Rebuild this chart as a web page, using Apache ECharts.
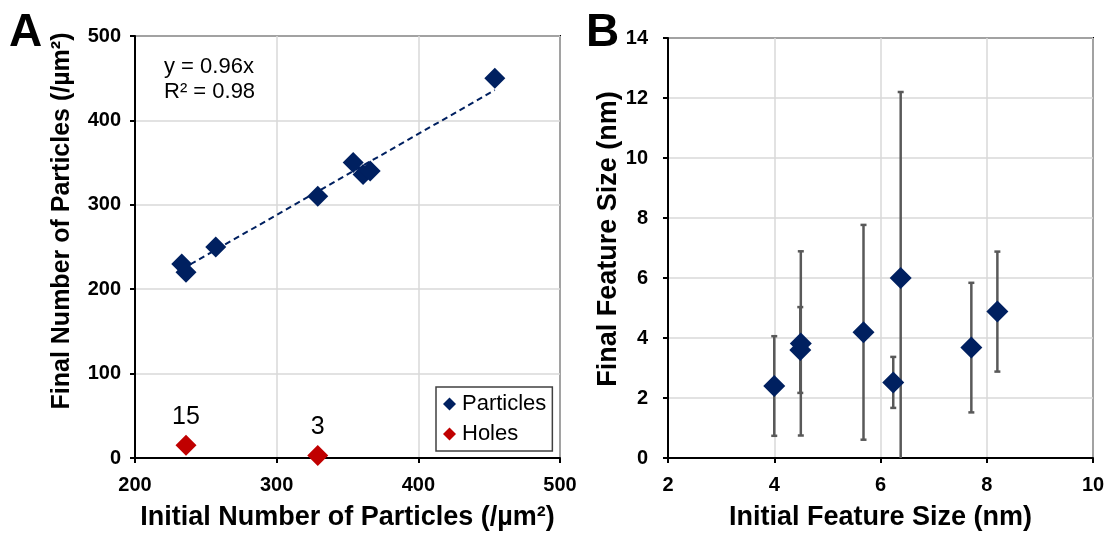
<!DOCTYPE html>
<html>
<head>
<meta charset="utf-8">
<script src="https://cdn.jsdelivr.net/npm/echarts@6/dist/echarts.min.js"></script>
<style>
html,body{margin:0;padding:0;background:#fff;}
#c{width:1109px;height:536px;}
</style>
</head>
<body>
<div id="c"></div>
<script>
// ---- Panel A data ----
const particlesInitial = [233, 236, 257, 329, 354, 361, 366, 454];
const particlesFinal   = [230, 220, 250, 310, 350, 336, 340, 450];
const holesInitial = [236, 329];
const holesFinal   = [15, 3];
const trendSlope = 0.96;
const trendR2 = 0.98;
const trendXRange = [233, 454];
const aXTicks = [200, 300, 400, 500];
const aYTicks = [0, 100, 200, 300, 400, 500];

// ---- Panel B data ----
const sizeInitial = [4.0, 4.49, 4.5, 5.68, 6.24, 6.38, 7.71, 8.2];
const sizeFinal   = [2.4, 3.6, 3.82, 4.19, 2.52, 6.0, 3.68, 4.88];
const sizeError   = [1.66, 1.43, 3.07, 3.58, 0.85, 6.2, 2.16, 2.0];
const bXTicks = [2, 4, 6, 8, 10];
const bYTicks = [0, 2, 4, 6, 8, 10, 12, 14];

const FONT = 'Liberation Sans, Arial, sans-serif';
const NAVY = '#002060';
const RED = '#C00000';
const GRID = '#d9d9d9';

const chart = echarts.init(document.getElementById('c'), null, {renderer: 'canvas'});

function axisCommon(min, max, interval, nameSize, namePad) {
  return {
    type: 'value', min: min, max: max, interval: interval,
    axisLine: {show: true, onZero: false, lineStyle: {color: '#000', width: 2}},
    axisTick: {show: true, length: 5, lineStyle: {color: '#000', width: 2}},
    splitLine: {show: true, lineStyle: {color: GRID, width: 1.5}},
    nameLocation: 'middle',
    nameTextStyle: {color: '#000', fontFamily: FONT, fontWeight: 'bold', fontSize: nameSize,
      padding: namePad || 0}
  };
}
function lbl(margin) {
  return {color: '#000', fontFamily: FONT, fontWeight: 'bold', fontSize: 20, margin: margin};
}

const particlesData = particlesInitial.map((x, i) => [x, particlesFinal[i]]);
const holesData = holesInitial.map((x, i) => [x, holesFinal[i]]);
const trendData = trendXRange.map(x => [x, trendSlope * x]);
const bData = sizeInitial.map((x, i) => [x, sizeFinal[i], sizeError[i]]);

const option = {
  backgroundColor: '#fff',
  animation: false,
  grid: [
    {left: 135, top: 36, width: 425, height: 427, show: true, borderColor: '#000', borderWidth: 2, backgroundColor: 'transparent'},
    {left: 668, top: 38, width: 425, height: 425, show: true, borderColor: '#000', borderWidth: 2, backgroundColor: 'transparent'}
  ],
  xAxis: [
    Object.assign(axisCommon(aXTicks[0], aXTicks[aXTicks.length - 1], 100, 27), {
      gridIndex: 0, name: 'Initial Number of Particles (/µm²)', nameGap: 46, axisLabel: lbl(17)
    }),
    Object.assign(axisCommon(bXTicks[0], bXTicks[bXTicks.length - 1], 2, 27), {
      gridIndex: 1, name: 'Initial Feature Size (nm)', nameGap: 46, axisLabel: lbl(17)
    })
  ],
  yAxis: [
    Object.assign(axisCommon(aYTicks[0], aYTicks[aYTicks.length - 1], 100, 25, [0, 0, 0, 52]), {
      gridIndex: 0, name: 'Final Number of Particles (/µm²)', nameGap: 60, axisLabel: lbl(14)
    }),
    Object.assign(axisCommon(bYTicks[0], bYTicks[bYTicks.length - 1], 2, 27, [0, 0, 0, 18]), {
      gridIndex: 1, name: 'Final Feature Size (nm)', nameGap: 45, axisLabel: lbl(20)
    })
  ],
  legend: {
    show: true, data: [
      {name: 'Particles', icon: 'diamond'},
      {name: 'Holes', icon: 'diamond'}
    ],
    orient: 'vertical', left: 436, top: 387,
    itemWidth: 13, itemHeight: 13, itemGap: 8,
    padding: [6, 6, 6, 7],
    borderColor: '#404040', borderWidth: 1.5, backgroundColor: '#fff',
    textStyle: {color: '#000', fontFamily: FONT, fontSize: 22, padding: [0, 0, 0, 1]}
  },
  graphic: [
    {type: 'text', left: 9, top: 10, style: {text: 'A', font: 'bold 46px ' + FONT, fill: '#000'}},
    {type: 'text', left: 586, top: 10, style: {text: 'B', font: 'bold 46px ' + FONT, fill: '#000'}},
    {type: 'text', left: 164, top: 54, style: {
      text: 'y = ' + trendSlope + 'x\nR² = ' + trendR2,
      font: '22px ' + FONT, fill: '#000', lineHeight: 25}}
  ],
  series: [
    {
      name: 'Trend', type: 'line', xAxisIndex: 0, yAxisIndex: 0,
      data: trendData, symbol: 'none', silent: true,
      lineStyle: {color: NAVY, width: 2, type: [6, 4]}, z: 2
    },
    {
      name: 'Particles', type: 'scatter', xAxisIndex: 0, yAxisIndex: 0,
      data: particlesData, symbol: 'diamond', symbolSize: 21,
      itemStyle: {color: NAVY, opacity: 1}, z: 3
    },
    {
      name: 'Holes', type: 'scatter', xAxisIndex: 0, yAxisIndex: 0,
      data: holesData, symbol: 'diamond', symbolSize: 21,
      itemStyle: {color: RED, opacity: 1}, z: 3,
      label: {show: true, position: 'top', distance: 5, color: '#000', opacity: 1,
        fontFamily: FONT, fontSize: 25, formatter: p => String(p.value[1])}
    },
    {
      name: 'ErrorBars', type: 'custom', xAxisIndex: 1, yAxisIndex: 1,
      data: bData, z: 2, silent: true,
      renderItem: function (params, api) {
        const x = api.value(0), y = api.value(1), e = api.value(2);
        let lo = y - e, hi = y + e;
        const loClipped = lo < 0;
        if (loClipped) lo = 0;
        const pHi = api.coord([x, hi]);
        const pLo = api.coord([x, lo]);
        const cap = 3;
        const style = {stroke: '#595959', lineWidth: 2.5};
        const children = [
          {type: 'line', shape: {x1: pHi[0], y1: pHi[1], x2: pLo[0], y2: pLo[1]}, style: style},
          {type: 'line', shape: {x1: pHi[0] - cap, y1: pHi[1], x2: pHi[0] + cap, y2: pHi[1]}, style: style}
        ];
        if (!loClipped) {
          children.push({type: 'line', shape: {x1: pLo[0] - cap, y1: pLo[1], x2: pLo[0] + cap, y2: pLo[1]}, style: style});
        }
        return {type: 'group', children: children};
      }
    },
    {
      name: 'Size', type: 'scatter', xAxisIndex: 1, yAxisIndex: 1,
      data: bData.map(d => [d[0], d[1]]), symbol: 'diamond', symbolSize: 22,
      itemStyle: {color: NAVY, opacity: 1}, z: 3
    }
  ]
};
chart.setOption(option);
</script>
</body>
</html>
